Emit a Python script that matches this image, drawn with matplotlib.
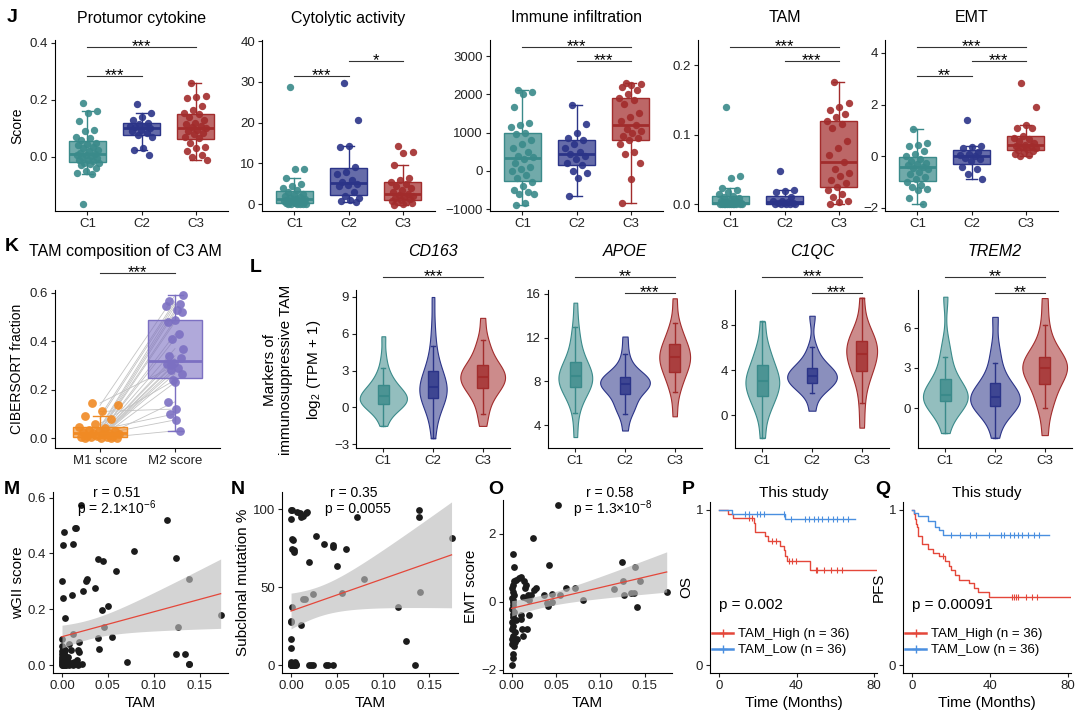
import numpy as np
import matplotlib
matplotlib.use('Agg')
import matplotlib.pyplot as plt
from matplotlib.transforms import blended_transform_factory
from matplotlib.lines import Line2D

plt.rcParams['font.family'] = ['Liberation Sans', 'DejaVu Sans']
plt.rcParams['mathtext.fontset'] = 'custom'
plt.rcParams['mathtext.rm'] = 'Liberation Sans'
plt.rcParams['mathtext.it'] = 'Liberation Sans:italic'
plt.rcParams['axes.linewidth'] = 0.8

# ---------------- data ----------------
groups = ['C1', 'C2', 'C3']

# J: signature scores per cluster
protumor_c1 = [0.19, 0.16, 0.155, 0.125, 0.095, 0.09, 0.07, 0.065, 0.06, 0.05, 0.045, 0.04, 0.035,
               0.03, 0.025, 0.02, 0.015, 0.01, 0.008, 0.005, 0.003, 0.0, -0.005, -0.01, -0.012,
               -0.015, -0.02, -0.02, -0.025, -0.03, -0.04, -0.05, -0.055, -0.06, -0.165]
protumor_c2 = [0.185, 0.155, 0.14, 0.13, 0.12, 0.115, 0.11, 0.11, 0.105, 0.1, 0.095, 0.09, 0.085,
               0.075, 0.07, 0.03, 0.025, 0.005]
protumor_c3 = [0.26, 0.215, 0.21, 0.205, 0.18, 0.165, 0.155, 0.15, 0.14, 0.13, 0.12, 0.115, 0.11,
               0.105, 0.1, 0.095, 0.09, 0.085, 0.08, 0.07, 0.065, 0.05, 0.035, 0.03, 0.02, 0.005,
               0.0, -0.01]

cytolytic_c1 = [28.8, 8.6, 8.5, 6.5, 5, 4.5, 4, 3.5, 3, 2.5, 2.2, 2, 1.8, 1.5, 1.3, 1.2, 1, 0.9,
                0.8, 0.7, 0.6, 0.5, 0.4, 0.3, 0.2, 0.1, 0.1, 0.05, 0, 0, 0]
cytolytic_c2 = [29.8, 20.6, 14.3, 14, 9.2, 8, 7.5, 6, 5.5, 5, 4.8, 4.5, 3, 2, 1.5, 1, 0.8, 0.6]
cytolytic_c3 = [14.3, 12.8, 12.5, 9.5, 6.5, 6, 5.5, 5, 4.5, 4, 3.5, 3, 2.5, 2.2, 2, 1.8, 1.5, 1.2,
                1, 0.8, 0.6, 0.4, 0.2, 0, -0.2]

immune_c1 = [2100, 2050, 2000, 1680, 1250, 1200, 1150, 1000, 950, 800, 700, 600, 500, 400, 350, 300,
             200, 100, 50, 0, -100, -200, -300, -400, -500, -550, -600, -600, -850, -900]
immune_c2 = [1720, 1220, 1000, 850, 800, 700, 600, 500, 450, 400, 300, 200, 150, 0, -50, -200, -650]
immune_c3 = [2300, 2280, 2250, 2200, 2100, 2000, 1900, 1850, 1750, 1500, 1400, 1300, 1200, 1100,
             1050, 1000, 900, 850, 800, 700, 500, 450, 200, -220, -830]

tam_c1 = [0.14, 0.04, 0.038, 0.023, 0.02, 0.018, 0.015, 0.012, 0.01, 0.008, 0.006, 0.005, 0.004,
          0.003, 0.002, 0.002, 0.001, 0.001, 0, 0, 0, 0, 0, 0, 0, 0, 0, 0, 0, 0]
tam_c2 = [0.047, 0.02, 0.019, 0.018, 0.01, 0.005, 0.004, 0.003, 0.002, 0.001, 0.001, 0, 0, 0, 0, 0]
tam_c3 = [0.175, 0.145, 0.14, 0.135, 0.13, 0.125, 0.12, 0.115, 0.11, 0.09, 0.08, 0.07, 0.06, 0.05,
          0.045, 0.04, 0.035, 0.03, 0.025, 0.02, 0.015, 0.01, 0.005, 0.003, 0.0]

emt_c1 = [1.05, 0.5, 0.45, 0.4, 0.2, 0.1, 0, -0.1, -0.2, -0.25, -0.3, -0.35, -0.4, -0.45, -0.5,
          -0.6, -0.7, -0.8, -0.9, -1.0, -1.1, -1.2, -1.25, -1.3, -1.6, -1.85]
emt_c2 = [1.4, 0.4, 0.35, 0.3, 0.15, 0.1, 0.05, 0, -0.05, -0.1, -0.2, -0.4, -0.5, -0.7, -0.9]
emt_c3 = [2.85, 1.9, 1.2, 1.1, 1.1, 0.8, 0.7, 0.65, 0.6, 0.5, 0.45, 0.4, 0.38, 0.35, 0.3, 0.28,
          0.25, 0.2, 0.15, 0.1, 0.05, 0.0]

# K: paired CIBERSORT fractions in C3
m1_score = [0.145, 0.135, 0.11, 0.09, 0.08, 0.06, 0.045, 0.04, 0.035, 0.03, 0.03, 0.025, 0.02,
            0.02, 0.015, 0.015, 0.01, 0.01, 0.008, 0.005, 0.005, 0.003, 0.002, 0.0, 0.0, 0.0]
m2_score = [0.3, 0.59, 0.12, 0.565, 0.555, 0.24, 0.545, 0.53, 0.1, 0.52, 0.49, 0.48, 0.43, 0.41,
            0.37, 0.075, 0.34, 0.33, 0.31, 0.305, 0.29, 0.28, 0.265, 0.23, 0.15, 0.03]

# L: marker expression, log2(TPM + 1)
cd163_c1 = [-1.5, -0.8, -0.3, 0.0, 0.1, 0.2, 0.3, 0.4, 0.5, 0.6, 0.7, 0.8, 0.9, 1.0, 1.1, 1.2,
            1.4, 1.6, 1.8, 2.0, 2.3, 2.7, 3.2, 4.2, 5.8]
cd163_c2 = [-2.5, -1.2, -0.3, 0.2, 0.5, 0.8, 0.9, 1.1, 1.3, 1.5, 1.7, 1.8, 2.0, 2.3, 2.6, 3.0,
            3.4, 4.0, 5.0, 6.5, 9.0]
cd163_c3 = [-1.5, -0.5, 0.3, 0.9, 1.3, 1.6, 1.8, 2.0, 2.2, 2.4, 2.5, 2.6, 2.8, 3.0, 3.2, 3.5,
            3.8, 4.3, 5.0, 5.5, 7.3]
apoe_c1 = [2.9, 5.1, 6.2, 6.9, 7.2, 7.45, 7.7, 7.9, 8.1, 8.3, 8.45, 8.6, 8.8, 9.1, 9.4, 9.8,
           10.3, 11.0, 12.0, 13.0, 15.2]
apoe_c2 = [3.5, 5.0, 5.6, 5.8, 6.0, 6.8, 7.2, 7.3, 7.5, 7.7, 7.8, 7.9, 8.0, 8.1, 8.2, 8.4, 8.5,
           8.8, 9.5, 10.5, 12.1]
apoe_c3 = [4.8, 7.0, 7.8, 8.5, 8.9, 9.3, 9.7, 10.0, 10.2, 10.4, 10.7, 11.0, 11.4, 11.9, 12.5,
           13.3, 15.6]
c1qc_c1 = [-2.0, 0.0, 0.8, 1.3, 1.7, 2.1, 2.5, 2.8, 3.0, 3.2, 3.5, 3.9, 4.4, 4.9, 5.5, 6.3, 8.3]
c1qc_c2 = [0.4, 2.0, 2.4, 2.6, 2.9, 3.1, 3.3, 3.4, 3.5, 3.7, 3.9, 4.1, 4.5, 5.0, 6.0, 8.8]
c1qc_c3 = [-1.1, 1.1, 2.8, 3.6, 4.0, 4.5, 5.0, 5.3, 5.6, 5.9, 6.2, 6.5, 6.8, 7.3, 8.1, 10.4]
trem2_c1 = [-1.85, -0.6, 0.0, 0.3, 0.5, 0.6, 0.7, 0.8, 0.9, 1.0, 1.2, 1.5, 1.9, 2.3, 2.9, 3.8,
            4.75, 8.3]
trem2_c2 = [-2.2, -0.8, -0.2, 0.0, 0.2, 0.4, 0.6, 0.7, 0.8, 1.0, 1.3, 1.6, 1.9, 2.5, 3.4, 4.5, 6.8]
trem2_c3 = [-2.0, 0.0, 0.5, 1.2, 1.8, 2.3, 2.6, 2.9, 3.0, 3.1, 3.3, 3.5, 3.8, 4.2, 4.9, 6.2, 8.2]

# M: wGII vs TAM (dense cluster at the origin holds overlapping points)
m_tam = [0.021, 0.002, 0.001, 0.014, 0.015, 0.012, 0.0, 0.001, 0.003, 0.011, 0.012, 0.026, 0.027,
         0.023, 0.036, 0.039, 0.045, 0.044, 0.05, 0.059, 0.079, 0.115, 0.124, 0.138, 0.173, 0.046,
         0.126, 0.039, 0.055, 0.04, 0.071, 0.124, 0.134, 0.138, 0.139, 0.019, 0.018, 0.019, 0.008,
         0.010, 0.022, 0.0, 0.0, 0.001, 0.002, 0.003, 0.004, 0.005, 0.0, 0.001, 0.006, 0.006,
         0.008, 0.01, 0.013, 0.016, 0.017, 0.0, 0.0, 0.001, 0.002, 0.007, 0.003, 0.0, 0.004, 0.012,
         0.0, 0.001, 0.002, 0.003, 0.0, 0.001, 0.004, 0.002, 0.005, 0.0, 0.003, 0.001, 0.002,
         0.0, 0.004]
m_wgii = [0.574, 0.476, 0.432, 0.49, 0.49, 0.434, 0.30, 0.24, 0.17, 0.25, 0.11, 0.30, 0.308, 0.264,
          0.275, 0.38, 0.373, 0.198, 0.213, 0.337, 0.408, 0.52, 0.385, 0.31, 0.178, 0.138, 0.138,
          0.098, 0.10, 0.057, 0.012, 0.041, 0.041, 0.004, 0.004, 0.083, 0.053, 0.047, 0.077, 0.053,
          0.006, 0.095, 0.067, 0.047, 0.036, 0.03, 0.02, 0.012, 0.006, 0.0, 0.006, 0.018, 0.0,
          0.008, 0.012, 0.018, 0.0, 0.03, 0.04, 0.012, 0.004, 0.03, 0.055, 0.015, 0.0, 0.0,
          0.0, 0.002, 0.01, 0.0, 0.022, 0.025, 0.008, 0.045, 0.003, 0.05, 0.015, 0.06, 0.035,
          0.01, 0.028]

# N: subclonal mutation % vs TAM
n_tam = [0, 0.001, 0, 0.006, 0.0096, 0.011, 0.013, 0.016, 0.017, 0.0007, 0.0025, 0.0036, 0.0007,
         0.0032, 0.027, 0.036, 0.045, 0.045, 0.06, 0.05, 0.019, 0.071, 0.079, 0.055, 0.024, 0.013,
         0.0146, 0.0007, 0, 0, 0.011, 0, 0, 0.116, 0.125, 0.134, 0.14, 0.139, 0.139, 0.174, 0,
         0.0025, 0.0043, 0.0057, 0.02, 0.022, 0.024, 0.038, 0.04, 0.046, 0.0007, 0.0036, 0.001,
         0, 0.001, 0.002, 0.003, 0.0, 0.004, 0.0015, 0.005, 0.0, 0.002, 0.003, 0.001]
n_subclonal = [99.6, 99.6, 94, 98.5, 97.8, 95, 95.5, 97.8, 98.5, 81, 80, 74, 74.4, 72.6, 82.5, 77.7,
               77, 75.5, 74.4, 63.5, 66.3, 94.7, 55.4, 46.3, 45.7, 42.7, 42.2, 37.6, 28.4, 27.4,
               25.8, 16.8, 10.9, 37.6, 15.3, 0, 46.6, 99.6, 95.2, 81.4, 0, 0, 2.2, 0, 0, 0, 0, 0, 0,
               0, 1.5, 1.5, 0.5, 0, 0, 0, 0.8, 1.0, 0, 0, 0.5, 2.0, 0, 1.2, 0]

# O: EMT score vs TAM
o_tam = [0.052, 0.024, 0.002, 0.003, 0.042, 0.125, 0.139, 0.126, 0.145, 0.127, 0.138, 0.135, 0.141,
         0.175, 0.115, 0.08, 0.072, 0.061, 0.055, 0.046, 0.046, 0.040, 0.041, 0.036, 0.027, 0.025,
         0.022, 0.018, 0.016, 0.013, 0.02, 0.008, 0.011, 0.005, 0.003, 0.002, 0.014, 0.016, 0.015,
         0.010, 0.011, 0.012, 0.013, 0.017, 0.019, 0.006, 0.004, 0.003, 0.002, 0.001, 0.0, 0.0,
         0.001, 0.0, 0.002, 0.0, 0.001, 0.003, 0.0, 0.002, 0.001, 0.0, 0.003, 0.001, 0.0, 0.004,
         0.005, 0.0, 0.002, 0.001]
o_emt = [2.85, 1.89, 1.41, 1.03, 1.09, 1.18, 1.03, 0.6, 0.6, 0.2, 0.27, 0.25, -0.15, 0.3, 0.38,
         0.05, 0.4, 0.42, 0.2, 0.22, -0.02, -0.05, -0.13, 0.2, 0.4, 0.35, 0.2, 0.2, 0.1, 0.15, 0.05,
         0.7, 0.72, 0.65, 0.6, 0.5, 0.6, 0.5, 0.4, -0.4, -0.5, -0.8, -1.0, -0.8, -0.4, -1.1, -1.2,
         -1.3, -1.55, -1.66, -1.87, -1.25, -1.0, -0.8, -0.7, -0.6, -0.45, -0.3, -0.2, -0.1, 0.0,
         0.1, 0.2, 0.3, 0.4, -0.9, -0.55, -1.1, 0.05, -0.35]

# P / Q: Kaplan-Meier step curves (time in months, survival) and censor times
os_high_t = [0, 4.6, 7.5, 18, 18.6, 23.8, 25.4, 31.3, 33.3, 33.9, 35.3, 47.2, 81]
os_high_s = [1, 0.972, 0.944, 0.916, 0.86, 0.83, 0.80, 0.77, 0.74, 0.70, 0.67, 0.61, 0.61]
os_high_cens = [15.5, 17, 27.4, 29.4, 36.3, 37.7, 39.7, 49.8, 50.8, 54.2, 58, 61, 63.7]
os_low_t = [0, 6.5, 34.3, 70]
os_low_s = [1, 0.975, 0.94, 0.94]
os_low_cens = [13.5, 15.5, 19.4, 21.4, 23.4, 33.3, 37.3, 44.2, 46.2, 48.8, 51.2, 53.2, 56.2, 58.7,
               61.1, 64.1, 66.7]
pfs_high_t = [0, 1, 1.5, 2, 2.5, 3, 5, 8, 11, 14, 17, 19, 20, 22, 24, 29, 32, 34, 39.5, 81]
pfs_high_s = [1, 0.97, 0.94, 0.91, 0.89, 0.83, 0.78, 0.75, 0.72, 0.70, 0.67, 0.64, 0.61, 0.58,
              0.55, 0.53, 0.50, 0.47, 0.44, 0.44]
pfs_high_cens = [16, 51.4, 52.4, 53.4, 54.3, 58.3, 61.3, 64.2]
pfs_low_t = [0, 1, 3, 8, 12, 14, 16, 70]
pfs_low_s = [1, 0.98, 0.96, 0.925, 0.89, 0.87, 0.84, 0.84]
pfs_low_cens = [20, 24.7, 29.6, 32.6, 39.5, 45.5, 47.4, 50.4, 52.4, 54.3, 56.3, 59.3, 62.3, 65.2]

# ---------------- drawing ----------------
W, H = 1080, 726
fig = plt.figure(figsize=(W / 100, H / 100), dpi=100)
cols = ['#3a8a8a', '#2b3488', '#a22c2c']
RED, BLUE = '#e4473a', '#4a8fe0'


def add_ax(l, t, r, b):
    ax = fig.add_axes([l / W, 1 - b / H, (r - l) / W, (b - t) / H])
    ax.spines['top'].set_visible(False)
    ax.spines['right'].set_visible(False)
    ax.tick_params(labelsize=9.5, length=3, width=0.8, pad=2, colors='#222222')
    return ax


def jitter(n, w):
    return ((np.arange(n) * 0.618034 + 0.3) % 1 - 0.5) * 2 * w


def sig(ax, x1, x2, ypx, label):
    tr = blended_transform_factory(ax.transData, fig.transFigure)
    y = 1 - ypx / H
    ax.plot([x1, x2], [y, y], transform=tr, color='#333333', lw=0.8, clip_on=False)
    ax.text((x1 + x2) / 2, 1 - (ypx + 4) / H, label, transform=tr, ha='center', va='baseline',
            fontsize=12, clip_on=False)


def ftext(x, y, s, **kw):
    fig.text(x / W, 1 - y / H, s, **kw)


def style_box(bp, col, face_alpha, med_lw=2.0):
    for patch in bp['boxes']:
        patch.set_facecolor(matplotlib.colors.to_rgba(col, face_alpha))
        patch.set_edgecolor(col)
        patch.set_linewidth(1.0)
    for k in ['whiskers', 'caps']:
        for ln in bp[k]:
            ln.set_color(col)
            ln.set_linewidth(1.0)
    for ln in bp['medians']:
        ln.set_color(col)
        ln.set_linewidth(med_lw)


def box_panel(ax, data, ylim, yticks, ylabels, title):
    for i, (vals, col) in enumerate(zip(data, cols)):
        bp = ax.boxplot([vals], positions=[i + 1], widths=0.7, patch_artist=True,
                        showfliers=False, whis=1.5, capwidths=0.2)
        style_box(bp, col, 0.72)
        ax.scatter(i + 1 + jitter(len(vals), 0.22), vals, s=28, color=col, alpha=0.9,
                   linewidths=0, zorder=3)
    ax.set_xlim(0.4, 3.6)
    ax.set_ylim(*ylim)
    ax.set_xticks([1, 2, 3])
    ax.set_xticklabels(groups)
    ax.set_yticks(yticks)
    ax.set_yticklabels(ylabels)
    bb = ax.get_position()
    fig.text((bb.x0 + bb.x1) / 2, 1 - 18 / H, title, ha='center', va='center', fontsize=11.5)


# ---- row J ----
j_specs = [
    ((55, 40, 228, 211), [protumor_c1, protumor_c2, protumor_c3], (-0.19, 0.41),
     [0.0, 0.2, 0.4], ['0.0', '0.2', '0.4'], 'Protumor cytokine',
     [(1, 3, 47, '***'), (1, 2, 76, '***')]),
    ((262, 40, 435, 211), [cytolytic_c1, cytolytic_c2, cytolytic_c3], (-1.7, 40.3),
     [0, 10, 20, 30, 40], ['0', '10', '20', '30', '40'], 'Cytolytic activity',
     [(1, 2, 76, '***'), (2, 3, 61, '*')]),
    ((490, 40, 663, 211), [immune_c1, immune_c2, immune_c3], (-1050, 3420),
     [-1000, 0, 1000, 2000, 3000], ['\u22121000', '0', '1000', '2000', '3000'],
     'Immune infiltration', [(1, 3, 47, '***'), (2, 3, 61, '***')]),
    ((698, 40, 871, 211), [tam_c1, tam_c2, tam_c3], (-0.01, 0.236),
     [0.0, 0.1, 0.2], ['0.0', '0.1', '0.2'], 'TAM',
     [(1, 3, 47, '***'), (2, 3, 61, '***')]),
    ((885, 40, 1058, 211), [emt_c1, emt_c2, emt_c3], (-2.12, 4.5),
     [-2, 0, 2, 4], ['\u22122', '0', '2', '4'], 'EMT',
     [(1, 3, 47, '***'), (2, 3, 61, '***'), (1, 2, 76, '**')]),
]
for k, (box, data, ylim, yt, yl, title, sigs) in enumerate(j_specs):
    ax = add_ax(*box)
    box_panel(ax, data, ylim, yt, yl, title)
    for x1, x2, ypx, lab in sigs:
        sig(ax, x1, x2, ypx, lab)
    if k == 0:
        ax.set_ylabel('Score', fontsize=10)

# ---- K ----
ax = add_ax(55, 290, 220, 448)
kcols = ['#f08a24', '#7c70c2']
for a, b in zip(m1_score, m2_score):
    ax.plot([1, 2], [a, b], color='#c4c4c4', lw=0.6, zorder=2)
for i, (vals, col, jw) in enumerate(zip([m1_score, m2_score], kcols, [0.28, 0.12])):
    bp = ax.boxplot([vals], positions=[i + 1], widths=0.72, patch_artist=True,
                    showfliers=False, whis=1.5, capwidths=0.2)
    style_box(bp, col, 0.6)
    ax.scatter(i + 1 + jitter(len(vals), jw), vals, s=40, color=col, alpha=0.9,
               linewidths=0, zorder=3)
ax.set_xlim(0.4, 2.6)
ax.set_ylim(-0.041, 0.612)
ax.set_xticks([1, 2])
ax.set_xticklabels(['M1 score', 'M2 score'])
ax.set_yticks([0, 0.2, 0.4, 0.6])
ax.set_yticklabels(['0.0', '0.2', '0.4', '0.6'])
ax.set_ylabel('CIBERSORT fraction', fontsize=10)
sig(ax, 1, 2, 273, '***')
ftext(125, 252, 'TAM composition of C3 AM', ha='center', va='center', fontsize=11.5)

# ---- L ----
l_specs = [
    ((356, 290, 510, 448), [cd163_c1, cd163_c2, cd163_c3], (-3.3, 9.57), [-3, 0, 3, 6, 9],
     'CD163', [0.95, 0.55, 0.9], [(1, 3, 277, '***')]),
    ((548, 290, 702, 448), [apoe_c1, apoe_c2, apoe_c3], (1.9, 16.36), [4, 8, 12, 16],
     'APOE', [0.68, 1.0, 0.62], [(1, 3, 277, '**'), (2, 3, 293, '***')]),
    ((735, 290, 889, 448), [c1qc_c1, c1qc_c2, c1qc_c3], (-2.9, 11.08), [0, 4, 8],
     'C1QC', [0.68, 1.0, 0.62], [(1, 3, 277, '***'), (2, 3, 293, '***')]),
    ((918, 290, 1072, 448), [trem2_c1, trem2_c2, trem2_c3], (-2.96, 8.8), [0, 3, 6],
     'TREM2', [0.9, 1.0, 0.9], [(1, 3, 277, '**'), (2, 3, 293, '**')]),
]
for box, data, ylim, yt, title, widths, sigs in l_specs:
    ax = add_ax(*box)
    vp = ax.violinplot(data, positions=[1, 2, 3], widths=widths, showextrema=False,
                       bw_method=0.45)
    for body, col in zip(vp['bodies'], cols):
        body.set_alpha(None)
        body.set_facecolor(matplotlib.colors.to_rgba(col, 0.55))
        body.set_edgecolor(col)
        body.set_linewidth(0.8)
    for i, (vals, col) in enumerate(zip(data, cols)):
        bp = ax.boxplot([vals], positions=[i + 1], widths=0.22, patch_artist=True,
                        showfliers=False, whis=1.5, capwidths=0.08)
        style_box(bp, col, 0.8, med_lw=1.5)
    ax.set_xlim(0.45, 3.55)
    ax.set_ylim(*ylim)
    ax.set_xticks([1, 2, 3])
    ax.set_xticklabels(groups)
    ax.set_yticks(yt)
    ax.set_yticklabels([str(v).replace('-', '\u2212') for v in yt])
    bb = ax.get_position()
    fig.text((bb.x0 + bb.x1) / 2, 1 - 252 / H, title, ha='center', va='center',
             fontsize=11.5, style='italic')
    for x1, x2, ypx, lab in sigs:
        sig(ax, x1, x2, ypx, lab)

ftext(278, 370, 'Markers of\nimmunosuppressive TAM', ha='center', va='center', rotation=90,
      fontsize=11, linespacing=1.15)
ftext(314, 370, r'log$_2$ (TPM + 1)', ha='center', va='center', rotation=90, fontsize=11)


# ---- M, N, O ----
def scatter_panel(ax, x, y):
    x = np.asarray(x, float)
    y = np.asarray(y, float)
    ax.scatter(x, y, s=24, color='#1c1c1c', linewidths=0, zorder=2)
    b, a = np.polyfit(x, y, 1)
    xs = np.linspace(x.min(), x.max(), 100)
    yh = a + b * xs
    n = len(x)
    s = np.sqrt(np.sum((y - (a + b * x)) ** 2) / (n - 2))
    se = s * np.sqrt(1 / n + (xs - x.mean()) ** 2 / np.sum((x - x.mean()) ** 2))
    ax.fill_between(xs, yh - 1.995 * se, yh + 1.995 * se, color='#bdbdbd', alpha=0.65,
                    lw=0, zorder=3)
    ax.plot(xs, yh, color=RED, lw=0.9, zorder=4)
    ax.set_xlim(-0.0098, 0.181)
    ax.set_xticks([0, 0.05, 0.10, 0.15])
    ax.set_xticklabels(['0.00', '0.05', '0.10', '0.15'])
    ax.set_xlabel('TAM', fontsize=11, labelpad=3)


ax = add_ax(53, 492, 228, 673)
scatter_panel(ax, m_tam, m_wgii)
ax.set_ylim(-0.028, 0.62)
ax.set_yticks([0, 0.2, 0.4, 0.6])
ax.set_yticklabels(['0.0', '0.2', '0.4', '0.6'])
ax.set_ylabel('wGII score', fontsize=11, labelpad=2)
ftext(117, 493, 'r = 0.51', ha='center', va='center', fontsize=10)
ftext(117, 509, r'p = 2.1×10$^{-6}$', ha='center', va='center', fontsize=10)

ax = add_ax(282, 492, 458, 673)
scatter_panel(ax, n_tam, n_subclonal)
ax.set_ylim(-5, 111)
ax.set_yticks([0, 50, 100])
ax.set_ylabel('Subclonal mutation %', fontsize=11, labelpad=2)
ftext(354, 493, 'r = 0.35', ha='center', va='center', fontsize=10)
ftext(358, 509, 'p = 0.0055', ha='center', va='center', fontsize=10)

ax = add_ax(503, 500, 672, 673)
scatter_panel(ax, o_tam, o_emt)
ax.set_ylim(-2.1, 3.0)
ax.set_yticks([-2, 0, 2])
ax.set_yticklabels(['\u22122', '0', '2'])
ax.set_ylabel('EMT score', fontsize=11, labelpad=2)
ftext(610, 493, 'r = 0.58', ha='center', va='center', fontsize=10)
ftext(613, 509, r'p = 1.3×10$^{-8}$', ha='center', va='center', fontsize=10)


# ---- P, Q ----
def surv_at(t, s, c):
    idx = np.searchsorted(t, c, side='right') - 1
    return np.asarray(s)[idx]


def km_panel(ax, curves, ylabel, ptext, legx, legy):
    for t, s, cens, col in curves:
        ax.step(t, s, where='post', color=col, lw=1.0)
        ax.plot(cens, surv_at(t, s, cens), ls='none', marker='|', ms=5, mew=0.8, color=col)
    ax.set_xlim(-4.6, 81.5)
    ax.set_ylim(-0.05, 1.05)
    ax.set_xticks([0, 40, 80])
    ax.set_yticks([0, 1])
    ax.set_ylabel(ylabel, fontsize=11, labelpad=2)
    ax.set_xlabel('Time (Months)', fontsize=11, labelpad=3)
    ax.text(0.0, 0.36, ptext, fontsize=11)
    handles = [Line2D([], [], color=RED, marker='+', ms=6, lw=1.8),
               Line2D([], [], color=BLUE, marker='+', ms=6, lw=1.8)]
    ax.legend(handles, ['TAM_High (n = 36)', 'TAM_Low (n = 36)'], loc='upper left',
              bbox_to_anchor=(legx / W, 1 - legy / H), bbox_transform=fig.transFigure,
              frameon=False, fontsize=9.5, handlelength=1.6, handletextpad=0.4,
              labelspacing=0.3, borderaxespad=0, borderpad=0)
    bb = ax.get_position()
    fig.text((bb.x0 + bb.x1) / 2, 1 - 493 / H, 'This study', ha='center', va='center',
             fontsize=11)


ax = add_ax(710, 502, 877, 673)
km_panel(ax, [(os_high_t, os_high_s, os_high_cens, RED),
              (os_low_t, os_low_s, os_low_cens, BLUE)], 'OS', 'p = 0.002', 712, 628)
ax = add_ax(903, 502, 1071, 673)
km_panel(ax, [(pfs_high_t, pfs_high_s, pfs_high_cens, RED),
              (pfs_low_t, pfs_low_s, pfs_low_cens, BLUE)], 'PFS', 'p = 0.00091', 905, 628)

# panel letters
for lab, x, y in [('J', 12, 18), ('K', 12, 247), ('L', 256, 268), ('M', 12, 490),
                  ('N', 238, 490), ('O', 496, 490), ('P', 688, 490), ('Q', 883, 490)]:
    ftext(x, y, lab, ha='center', va='center', fontsize=14, fontweight='bold')

fig.savefig('out.png', dpi=100)
